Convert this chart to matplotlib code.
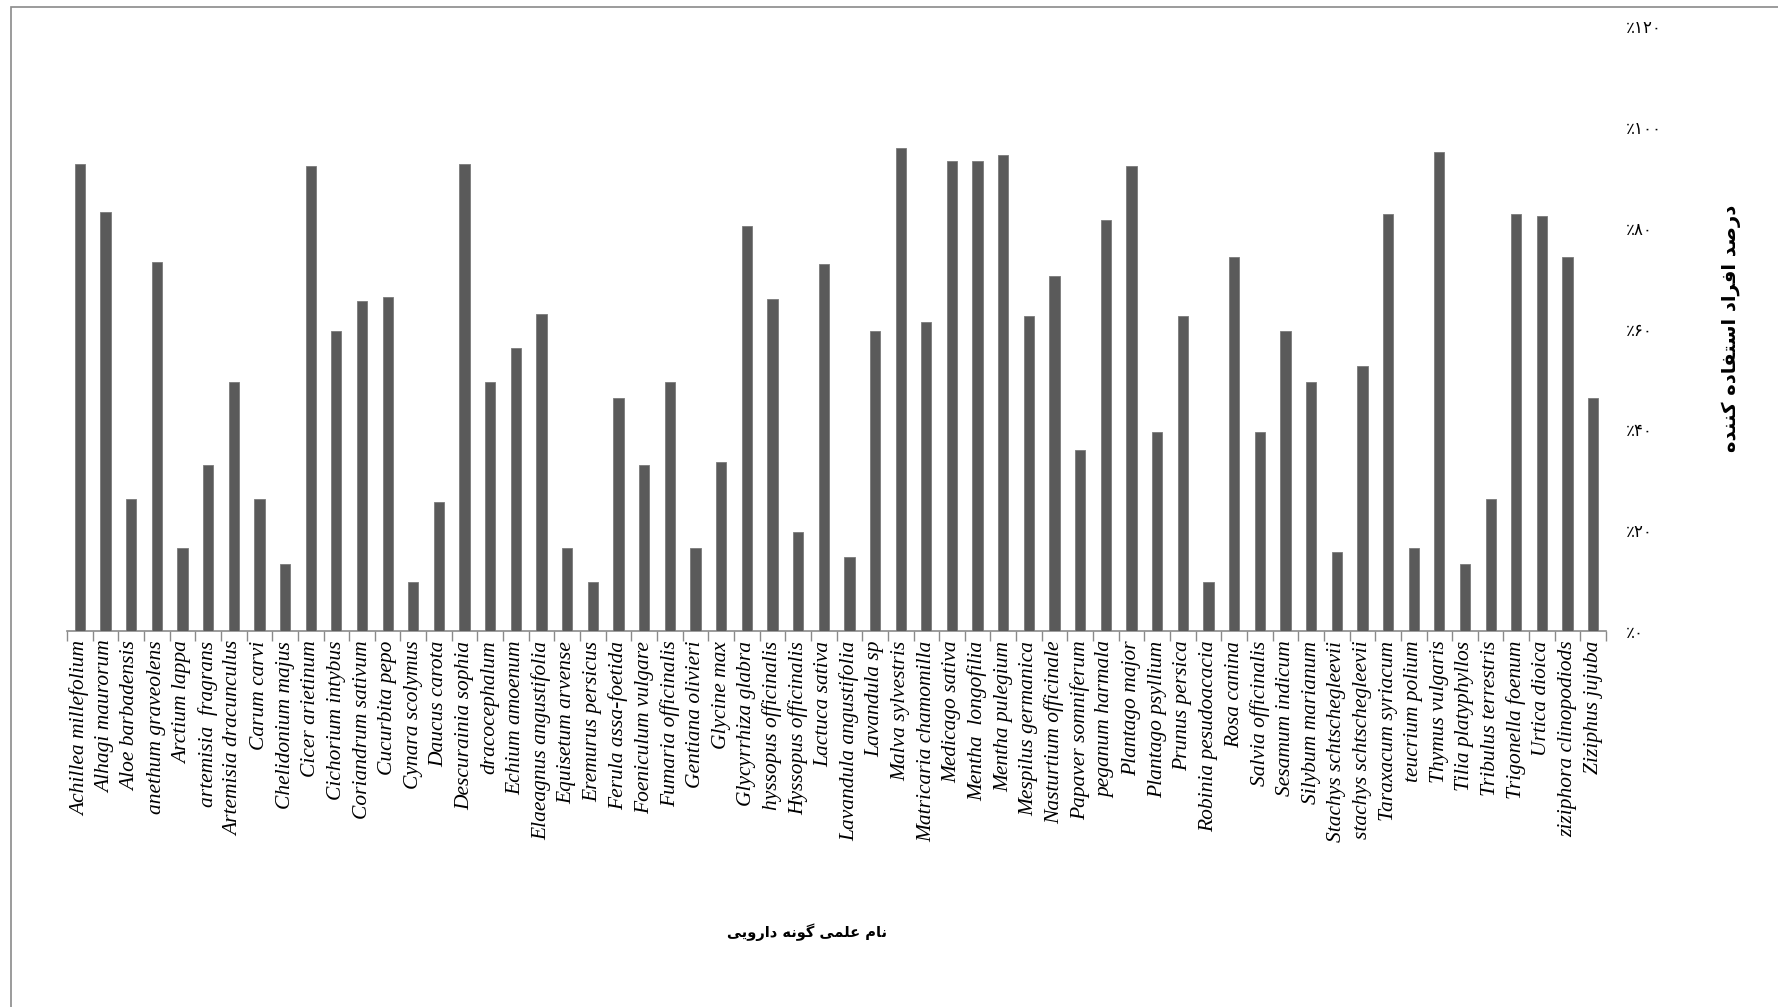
import numpy as np
import matplotlib
matplotlib.use("Agg")
import matplotlib.pyplot as plt
from matplotlib.patches import Rectangle

species = [
    'Achillea millefolium', 'Alhagi maurorum', 'Aloe barbadensis', 'anethum graveolens',
    'Arctium lappa', 'artemisia  fragrans', 'Artemisia dracunculus', 'Carum carvi',
    'Chelidonium majus', 'Cicer arietinum', 'Cichorium intybus', 'Coriandrum sativum',
    'Cucurbita pepo', 'Cynara scolymus', 'Daucus carota', 'Descurainia sophia',
    'dracocephalum', 'Echium amoenum', 'Elaeagnus angustifolia', 'Equisetum arvense',
    'Eremurus persicus', 'Ferula assa-foetida', 'Foeniculum vulgare', 'Fumaria officinalis',
    'Gentiana olivieri', 'Glycine max', 'Glycyrrhiza glabra', 'hyssopus officinalis',
    'Hyssopus officinalis', 'Lactuca sativa', 'Lavandula angustifolia', 'Lavandula sp',
    'Malva sylvestris', 'Matricaria chamomilla', 'Medicago sativa', 'Mentha  longofilia',
    'Mentha pulegium', 'Mespilus germanica', 'Nasturtium officinale', 'Papaver somniferum',
    'peganum harmala', 'Plantago major', 'Plantago psyllium', 'Prunus persica',
    'Robinia pesudoacacia', 'Rosa canina', 'Salvia officinalis', 'Sesamum indicum',
    'Silybum marianum', 'Stachys schtschegleevii', 'stachys schtschegleevii', 'Taraxacum syriacum',
    'teucrium polium', 'Thymus vulgaris', 'Tilia platyphyllos', 'Tribulus terrestris',
    'Trigonella foenum', 'Urtica dioica', 'ziziphora clinopodiods', 'Ziziphus jujuba',
]

usage_pct = [
    92.6, 83.2, 26.2, 73.3, 16.5, 32.9, 49.4, 26.2, 13.3, 92.2,
    59.6, 65.5, 66.2, 9.8, 25.5, 92.6, 49.4, 56.1, 62.8, 16.5,
    9.8, 46.3, 32.9, 49.4, 16.5, 33.6, 80.3, 65.9, 19.6, 72.9,
    14.7, 59.6, 95.8, 61.3, 93.3, 93.3, 94.4, 62.4, 70.4, 36.0,
    81.5, 92.2, 39.5, 62.4, 9.8, 74.3, 39.5, 59.6, 49.4, 15.7,
    52.5, 82.8, 16.5, 95.1, 13.3, 26.2, 82.8, 82.4, 74.3, 46.3,
]

y_ticks = [0, 20, 40, 60, 80, 100, 120]

x_title = 'نام علمی گونه دارویی'
y_title = 'درصد افراد استفاده کننده'

# presentation forms: isolated, final, initial, medial (None = does not join left)
FORMS = {
    'ا': ('\uFE8D', '\uFE8E', None, None),
    'د': ('\uFEA9', '\uFEAA', None, None),
    'ر': ('\uFEAD', '\uFEAE', None, None),
    'و': ('\uFEED', '\uFEEE', None, None),
    'ن': ('\uFEE5', '\uFEE6', '\uFEE7', '\uFEE8'),
    'م': ('\uFEE1', '\uFEE2', '\uFEE3', '\uFEE4'),
    'ع': ('\uFEC9', '\uFECA', '\uFECB', '\uFECC'),
    'ل': ('\uFEDD', '\uFEDE', '\uFEDF', '\uFEE0'),
    'ه': ('\uFEE9', '\uFEEA', '\uFEEB', '\uFEEC'),
    'ص': ('\uFEB9', '\uFEBA', '\uFEBB', '\uFEBC'),
    'ف': ('\uFED1', '\uFED2', '\uFED3', '\uFED4'),
    'س': ('\uFEB1', '\uFEB2', '\uFEB3', '\uFEB4'),
    'ت': ('\uFE95', '\uFE96', '\uFE97', '\uFE98'),
    'ی': ('\uFBFC', '\uFBFD', '\uFBFE', '\uFBFF'),
    'ک': ('\uFB8E', '\uFB8F', '\uFB90', '\uFB91'),
    'گ': ('\uFB92', '\uFB93', '\uFB94', '\uFB95'),
}


def shape(text):
    # matplotlib does no arabic shaping / bidi, so do it by hand
    out = []
    for i, ch in enumerate(text):
        if ch not in FORMS:
            out.append(ch)
            continue
        prev = text[i - 1] if i > 0 else ''
        nxt = text[i + 1] if i + 1 < len(text) else ''
        jp = prev in FORMS and FORMS[prev][2] is not None
        jn = nxt in FORMS and FORMS[ch][2] is not None
        iso, fin, ini, med = FORMS[ch]
        if jp and jn:
            out.append(med)
        elif jp:
            out.append(fin)
        elif jn:
            out.append(ini)
        else:
            out.append(iso)
    return ''.join(reversed(out))


def fa_pct(v):
    digits = str(v).translate(str.maketrans('0123456789', '۰۱۲۳۴۵۶۷۸۹'))
    return '\u066A' + digits


fig = plt.figure(figsize=(17.78, 10.07), dpi=100)
ax = fig.add_axes([0.0377, 0.3734, 0.8656, 0.6006])

x = np.arange(len(species))
ax.bar(x, usage_pct, width=0.4, color='#5a5a5a', edgecolor='#7a7a7a', linewidth=0.6, zorder=3)

ax.set_xlim(-0.5, len(species) - 0.5)
ax.set_ylim(0, 120)

# y axis on the right, no line
ax.yaxis.tick_right()
ax.set_yticks(y_ticks)
ax.set_yticklabels([fa_pct(v) for v in y_ticks], family=['DejaVu Sans'], fontsize=12)
ax.tick_params(axis='y', length=0, pad=14)
for lab in ax.get_yticklabels():
    lab.set_horizontalalignment('left')

ax.set_xticks(x)
ax.set_xticklabels(species, rotation=90, fontsize=15.5, family='Liberation Serif',
                   style='italic', ha='center', va='top')
ax.set_xticks(np.arange(-0.5, len(species)), minor=True)
ax.tick_params(axis='x', which='major', length=0, pad=7)
ax.tick_params(axis='x', which='minor', length=7, color='#8a8a8a', width=1)

for s in ['top', 'left', 'right']:
    ax.spines[s].set_visible(False)
ax.spines['bottom'].set_color('#8a8a8a')
ax.spines['bottom'].set_linewidth(1.2)

fig.text(0.454, 0.074, shape(x_title), family=['DejaVu Sans'], fontsize=10.5,
         fontweight='bold', ha='center', va='center')
fig.text(0.974, 0.674, shape(y_title), family=['DejaVu Sans'], fontsize=14,
         fontweight='bold', ha='center', va='center', rotation=90)

# chart frame
fig.patches.append(Rectangle((0.0062, -0.05), 1.05, 1.043, transform=fig.transFigure,
                             fill=False, edgecolor='#8a8a8a', linewidth=1.2))

fig.savefig('out.png', dpi=100)
